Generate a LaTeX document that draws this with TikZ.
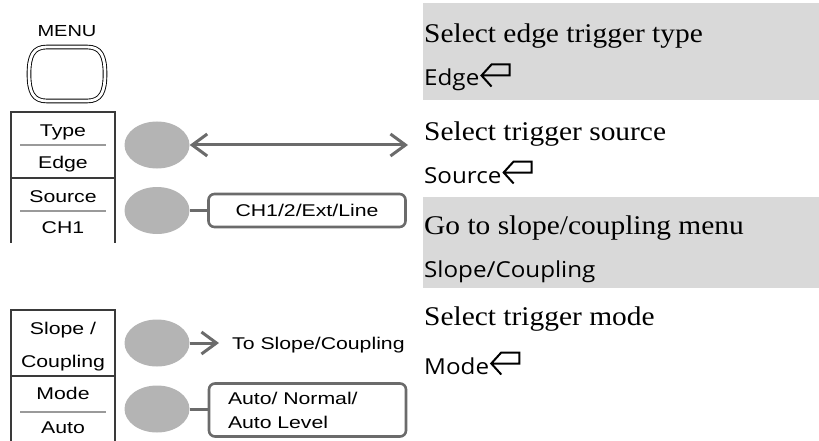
\documentclass[tikz,border=0pt]{standalone}
\usepackage{fontspec}
\usepackage{tikz}
\usetikzlibrary{arrows.meta,shapes.geometric}
\newfontfamily\keyfont[FakeStretch=1.25]{Liberation Sans}
\newfontfamily\descfont[FakeStretch=1.09]{Liberation Serif}
\newfontfamily\setfont[FakeStretch=1.1]{Open Sans}
\definecolor{SKLine}{HTML}{3A3A3A}
\definecolor{SKSep}{HTML}{9A9A9A}
\definecolor{SKKnob}{HTML}{B4B4B4}
\definecolor{SKWire}{HTML}{6B6B6B}
\definecolor{SKBand}{HTML}{D9D9D9}
\tikzset{
  keyline/.style={draw=SKLine,line width=1.1pt},
  keysep/.style={draw=SKSep,line width=1.6pt},
  keytext/.style={font=\keyfont\fontsize{17}{20}\selectfont,inner sep=0pt,anchor=base},
  menubtn/.style={draw=black,double=white,double distance=2.8pt,line width=.9pt},
  knob/.style={ellipse,fill=SKKnob,minimum width=65pt,minimum height=47pt,inner sep=0pt},
  wire/.style={draw=SKWire,line width=3pt},
  pointer/.style={wire,-{Straight Barb[length=15pt,width=22pt]}},
  dblpointer/.style={wire,{Straight Barb[length=15pt,width=22pt]}-{Straight Barb[length=15pt,width=22pt]}},
  optbox/.style={draw=SKWire,line width=2.6pt,rounded corners=6pt,fill=white,
                 font=\keyfont\fontsize{17}{24}\selectfont,minimum width=197pt},
  band/.style={fill=SKBand},
  desc/.style={font=\descfont\fontsize{27}{32}\selectfont,inner sep=0pt,anchor=base west},
  setting/.style={font=\setfont\fontsize{22}{26}\selectfont,inner sep=0pt,anchor=base west},
  enterkey/.pic={\draw[line width=2pt,line join=miter]
                 (10,11) -- (0,0) -- (10,-11) -- (28,-11) -- (28,0) -- (0,0);},
}
\begin{document}
\begin{tikzpicture}[x=1pt,y=-1pt]
  \useasboundingbox (0,0) rectangle (819,441);

  \node[keytext,font=\keyfont\fontsize{16}{19}\selectfont] (menutxt) at (67,37) {MENU};
  \draw[menubtn] (47,47) -- (87,47) .. controls (101,47) and (105,56) .. (105,74)
    .. controls (105,92) and (101,101) .. (87,101) -- (47,101)
    .. controls (33,101) and (29,92) .. (29,74) .. controls (29,56) and (33,47) .. (47,47) -- cycle;

  \draw[keyline] (11,112) rectangle (115,178);
  \draw[keyline] (11,178) -- (11,243) (115,178) -- (115,243);
  \draw[keyline] (11,310) rectangle (115,376);
  \draw[keyline] (11,376) -- (11,441) (115,376) -- (115,441);
  \draw[keysep] (20,145) -- (106,145);
  \draw[keysep] (20,211) -- (106,211);
  \draw[keysep] (20,412) -- (106,412);

  \node[keytext] (typetxt) at (63,137) {Type};
  \node[keytext] (edgetxt) at (63,168) {Edge};
  \node[keytext] (srctxt) at (63,202) {Source};
  \node[keytext] (chtxt) at (63,233) {CH1};
  \node[keytext] (slopetxt) at (63,334) {Slope /};
  \node[keytext] (coupletxt) at (63,367) {Coupling};
  \node[keytext] (modetxt) at (63,399) {Mode};
  \node[keytext] (autotxt) at (63,433) {Auto};

  \node[knob] (typeknob) at (157,145) {};
  \node[knob] (srcknob) at (157,210.5) {};
  \node[knob] (slopeknob) at (157,343) {};
  \node[knob] (modeknob) at (157,409) {};

  \coordinate (typetip) at (408,145);
  \draw[dblpointer] (typeknob) -- (typetip);

  \node[optbox,minimum height=33pt] (srcopts) at (307,210.5) {CH1/2/Ext/Line};
  \draw[wire] (srcknob) -- (srcknob -| srcopts.west);

  \node[keytext,anchor=base west,inner xsep=13pt] (slopego) at (219,349) {To Slope/Coupling};
  \draw[pointer] (slopeknob) -- (slopeknob -| slopego.west);

  \node[optbox,minimum height=53pt,text width=159pt,inner xsep=19pt,align=left]
    (modeopts) at (307.5,410) {Auto/ Normal/\\Auto Level};
  \draw[wire] (modeknob) -- (modeknob -| modeopts.west);

  \fill[band] (423,3) rectangle (819,100);
  \fill[band] (423,197) rectangle (819,288);

  \node[desc] (typedesc) at (424,43) {Select edge trigger type};
  \node[setting] (typeset) at (424,86) {Edge};
  \pic at ([xshift=2pt,yshift=10.5pt]typeset.base east) {enterkey};
  \node[desc] (srcdesc) at (424,140) {Select trigger source};
  \node[setting] (srcset) at (424,183) {Source};
  \pic at ([xshift=2pt,yshift=10.5pt]srcset.base east) {enterkey};
  \node[desc] (slopedesc) at (424,234) {Go to slope/coupling menu};
  \node[setting] (slopeset) at (424,277) {Slope/Coupling};
  \node[desc] (modedesc) at (424,325) {Select trigger mode};
  \node[setting] (modeset) at (424,374) {Mode};
  \pic at ([xshift=2pt,yshift=10.5pt]modeset.base east) {enterkey};
\end{tikzpicture}
\end{document}
